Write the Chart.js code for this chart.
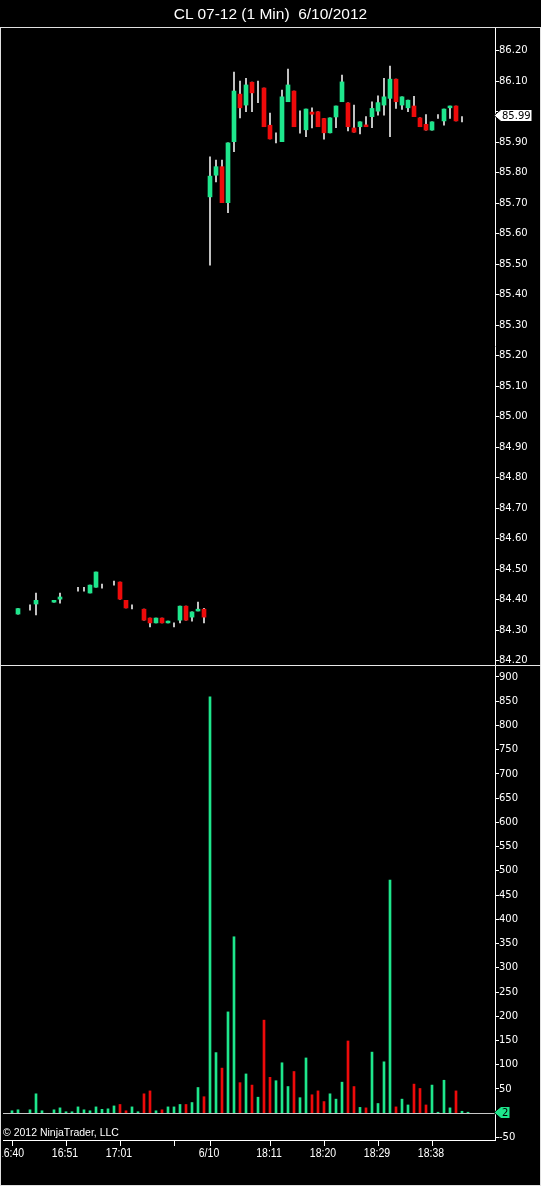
<!DOCTYPE html>
<html><head><meta charset="utf-8">
<script src="https://cdn.jsdelivr.net/npm/chart.js@4.4.1/dist/chart.umd.min.js"></script>
<style>
html,body{margin:0;padding:0;background:#000;overflow:hidden}
#wrap{position:relative;width:541px;height:1186px;background:#000}
#price{position:absolute;left:0;top:0;width:541px;height:665px}
#vol{position:absolute;left:0;top:665px;width:541px;height:521px}
#title{position:absolute;left:0;top:6px;width:541px;text-align:center;color:#fff;font:15.5px/16px "Liberation Sans",Arial,sans-serif;white-space:pre}
#copy{position:absolute;left:3px;top:1126px;color:#fff;font:10.5px/12px "Liberation Sans",Arial,sans-serif;white-space:pre}
#frame{position:absolute;left:0;top:27px;width:539px;height:1157px;border:1px solid #e0e0e0;pointer-events:none}
#sep{position:absolute;left:0;top:665px;width:541px;height:1px;background:#e8e8e8}
</style></head>
<body>
<div id="wrap">
<canvas id="price" width="541" height="665"></canvas>
<canvas id="vol" width="541" height="521"></canvas>
<div id="title">CL 07-12 (1 Min)  6/10/2012</div>
<div id="copy">© 2012 NinjaTrader, LLC</div>
<div id="frame"></div><div id="sep"></div>
</div>
<script>
// ---- data (one entry per 1-minute slot; null = no bar) ----
const opens  = [null,84.36,84.353,null,84.375,84.386,84.40,null,84.392,84.402,84.42,84.43,84.435,84.435,84.422,84.441,84.445,84.45,84.455,84.458,84.398,84.376,84.37,84.369,84.340,84.324,84.340,84.324,84.320,84.333,84.379,84.343,84.363,84.369,
  85.721,85.792,85.820,85.702,85.902,86.058,86.022,86.097,86.065,86.078,85.956,85.910,85.902,86.033,86.068,85.950,85.941,85.999,86.000,85.978,85.931,85.983,86.033,86.029,85.947,85.951,85.957,85.984,86.002,86.022,86.044,86.107,86.022,86.013,86.019,85.980,85.959,85.940,85.985,85.970,86.013,86.019,85.975,85.99];
const highs  = [null,84.36,84.371,null,84.383,84.422,84.40,null,84.398,84.422,84.42,84.43,84.441,84.441,84.448,84.491,84.451,84.45,84.461,84.458,84.398,84.383,84.37,84.369,84.340,84.340,84.340,84.330,84.324,84.379,84.379,84.360,84.392,84.372,
  85.852,85.842,85.842,85.898,86.130,86.101,86.110,86.097,86.101,86.078,85.996,85.931,86.071,86.140,86.068,86.003,86.009,86.013,86.000,85.978,85.980,86.019,86.120,86.029,86.022,85.967,85.984,86.033,86.052,86.110,86.150,86.107,86.049,86.038,86.051,85.980,85.991,85.967,85.991,86.009,86.019,86.019,85.984,85.99];
const lows   = [null,84.36,84.353,null,84.366,84.350,84.40,null,84.392,84.389,84.42,84.43,84.428,84.428,84.422,84.441,84.438,84.45,84.448,84.402,84.373,84.370,84.37,84.333,84.311,84.324,84.324,84.324,84.311,84.324,84.333,84.330,84.363,84.324,
  85.497,85.770,85.702,85.669,85.869,85.980,86.000,86.000,86.030,85.951,85.911,85.898,85.902,86.033,85.951,85.930,85.918,85.947,85.951,85.910,85.931,85.948,86.033,85.937,85.933,85.927,85.951,85.948,85.989,85.989,85.918,86.011,86.008,86.000,85.984,85.951,85.940,85.940,85.978,85.956,85.978,85.970,85.967,85.99];
const closes = [null,84.36,84.371,null,84.375,84.398,84.40,null,84.398,84.409,84.42,84.43,84.435,84.435,84.448,84.491,84.445,84.45,84.455,84.402,84.373,84.376,84.37,84.333,84.324,84.340,84.324,84.330,84.320,84.379,84.333,84.360,84.369,84.343,
  85.789,85.820,85.702,85.898,86.068,86.013,86.088,86.062,86.065,85.951,85.911,85.910,86.049,86.088,85.951,85.950,86.009,85.992,85.951,85.931,85.980,86.019,86.098,85.951,85.933,85.967,85.951,86.011,86.030,86.049,86.107,86.033,86.049,86.038,85.984,85.951,85.940,85.967,85.985,86.009,86.019,85.970,85.975,85.99];
const volumes = [null,5,7,null,7,40,5,null,7,11,3,3,13,7,5,13,8,9,15,18,5,13,3,40,46,5,7,13,13,18,18,22,53,34,
  859,125,93,209,364,63,81,58,33,192,74,67,104,55,86,32,114,38,46,24,40,29,64,149,55,12,11,126,20,106,481,13,29,17,60,51,17,58,2,68,11,46,4,2];
const tickSlots = [1,10,19,28,34,44,53,62,71];
const tickTexts = ['16:40','16:51','17:01','','6/10','18:11','18:20','18:29','18:38'];
const priceTicks = {min:84.186, max:86.278, step:0.1};
const volTicks = {min:-55.3, max:924.7, step:50};
const lastPrice = 85.99;
const lastVolume = 2;
const slotCount = 82;

// ---- styles ----
const UP = '#1ee68c', DOWN = '#ee0a0a', WICK = '#e8e8e8', AXIS = '#ffffff';
const slots = Array.from({length: slotCount}, (_, i) => String(i));
const isUp = opens.map((o, i) => o == null ? true : closes[i] >= o);
const wickData = highs.map((h, i) => (h == null || h === lows[i]) ? null : [lows[i], h]);
const bodyData = opens.map((o, i) => (o == null || o === closes[i]) ? null : [o, closes[i]]);
const barColors = isUp.map(u => u ? UP : DOWN);
const yFont = {family: '"DejaVu Sans", sans-serif', size: 10};

function fixY(s){ s.width = 46; s.paddingTop = 0; s.paddingBottom = 0; }
function fixX(s){ s.paddingLeft = 0; s.paddingRight = 0; }

function marker(ctx, tipX, y, right, fill, text){
  ctx.save();
  ctx.beginPath();
  ctx.moveTo(tipX, y); ctx.lineTo(tipX + 7, y - 6); ctx.lineTo(right, y - 6);
  ctx.lineTo(right, y + 6); ctx.lineTo(tipX + 7, y + 6); ctx.closePath();
  ctx.fillStyle = fill; ctx.fill();
  ctx.lineWidth = 1; ctx.strokeStyle = '#000'; ctx.stroke();
  ctx.fillStyle = '#000'; ctx.font = '10px "DejaVu Sans", sans-serif';
  ctx.textBaseline = 'middle'; ctx.textAlign = 'left';
  ctx.fillText(text, tipX + 8, y + 0.5);
  ctx.restore();
}

const priceMarker = {
  id: 'priceMarker',
  afterDraw(chart){
    const y = chart.scales.y.getPixelForValue(lastPrice);
    marker(chart.ctx, chart.chartArea.right - 1, Math.round(y) + 0.5, 532, '#ffffff', lastPrice.toFixed(2));
  }
};
const volMarker = {
  id: 'volMarker',
  afterDraw(chart){
    const y = chart.scales.y.getPixelForValue(lastVolume);
    marker(chart.ctx, chart.chartArea.right - 1, Math.round(y) + 0.5, 510, UP, String(lastVolume));
  }
};
const xLabels = {
  id: 'xLabels',
  afterDraw(chart){
    const ctx = chart.ctx, xs = chart.scales.x;
    ctx.save();
    ctx.beginPath(); ctx.rect(2.5, xs.top, chart.chartArea.right - 2.5, xs.height); ctx.clip();
    ctx.fillStyle = '#fff';
    ctx.font = '12.5px "Liberation Sans", Arial, sans-serif';
    ctx.textAlign = 'center'; ctx.textBaseline = 'alphabetic';
    tickSlots.forEach((s, k) => {
      const x = xs.getPixelForValue(s);
      ctx.save();
      ctx.translate(x - 1, xs.top + 17);
      ctx.scale(0.84, 1);
      ctx.fillText(tickTexts[k], 0, 0);
      ctx.restore();
    });
    ctx.restore();
  }
};

new Chart(document.getElementById('price'), {
  type: 'bar',
  data: {labels: slots, datasets: [
    {data: wickData, backgroundColor: WICK, barThickness: 1, grouped: false, order: 2},
    {data: bodyData, backgroundColor: barColors, barThickness: 4, grouped: false, order: 1}
  ]},
  options: {
    responsive: false, animation: false, devicePixelRatio: 1,
    layout: {padding: {left: 3, top: 27, right: 0, bottom: 0}},
    plugins: {legend: {display: false}, tooltip: {enabled: false}, title: {display: false}},
    scales: {
      x: {display: false, offset: true, afterFit: fixX},
      y: {position: 'right', min: priceTicks.min, max: priceTicks.max,
          ticks: {stepSize: priceTicks.step, includeBounds: false, autoSkip: false, color: '#fff', font: yFont, padding: 0,
                  callback: v => Math.abs(v - lastPrice) < 0.035 ? '' : Number(v).toFixed(2)},
          grid: {drawOnChartArea: false, drawTicks: true, tickLength: 4, tickColor: AXIS},
          border: {display: true, color: AXIS, width: 1},
          afterFit: fixY}
    }
  },
  plugins: [priceMarker]
});

new Chart(document.getElementById('vol'), {
  type: 'bar',
  data: {labels: slots, datasets: [
    {data: volumes, backgroundColor: barColors, barThickness: 2}
  ]},
  options: {
    responsive: false, animation: false, devicePixelRatio: 1,
    layout: {padding: {left: 3, top: 0, right: 0, bottom: 0}},
    plugins: {legend: {display: false}, tooltip: {enabled: false}},
    scales: {
      x: {offset: true,
          ticks: {display: false, autoSkip: false},
          grid: {offset: false, drawOnChartArea: false, drawTicks: true, tickLength: 6,
                 tickColor: c => tickSlots.includes(c.index) ? AXIS : 'rgba(0,0,0,0)'},
          border: {display: true, color: AXIS, width: 1},
          afterFit: s => { s.height = 46; fixX(s); }},
      y: {position: 'right', min: volTicks.min, max: volTicks.max,
          ticks: {stepSize: volTicks.step, includeBounds: false, autoSkip: false, color: '#fff', font: yFont, padding: 0,
                  callback: v => Math.abs(v - lastVolume) < 20 ? '' : String(Math.round(v))},
          grid: {drawOnChartArea: true, drawTicks: true, tickLength: 4, tickColor: AXIS,
                 color: c => (c.tick && c.tick.value === 0) ? '#c8c8c8' : 'rgba(0,0,0,0)'},
          border: {display: true, color: AXIS, width: 1},
          afterFit: fixY}
    }
  },
  plugins: [xLabels, volMarker]
});
</script>
</body></html>
